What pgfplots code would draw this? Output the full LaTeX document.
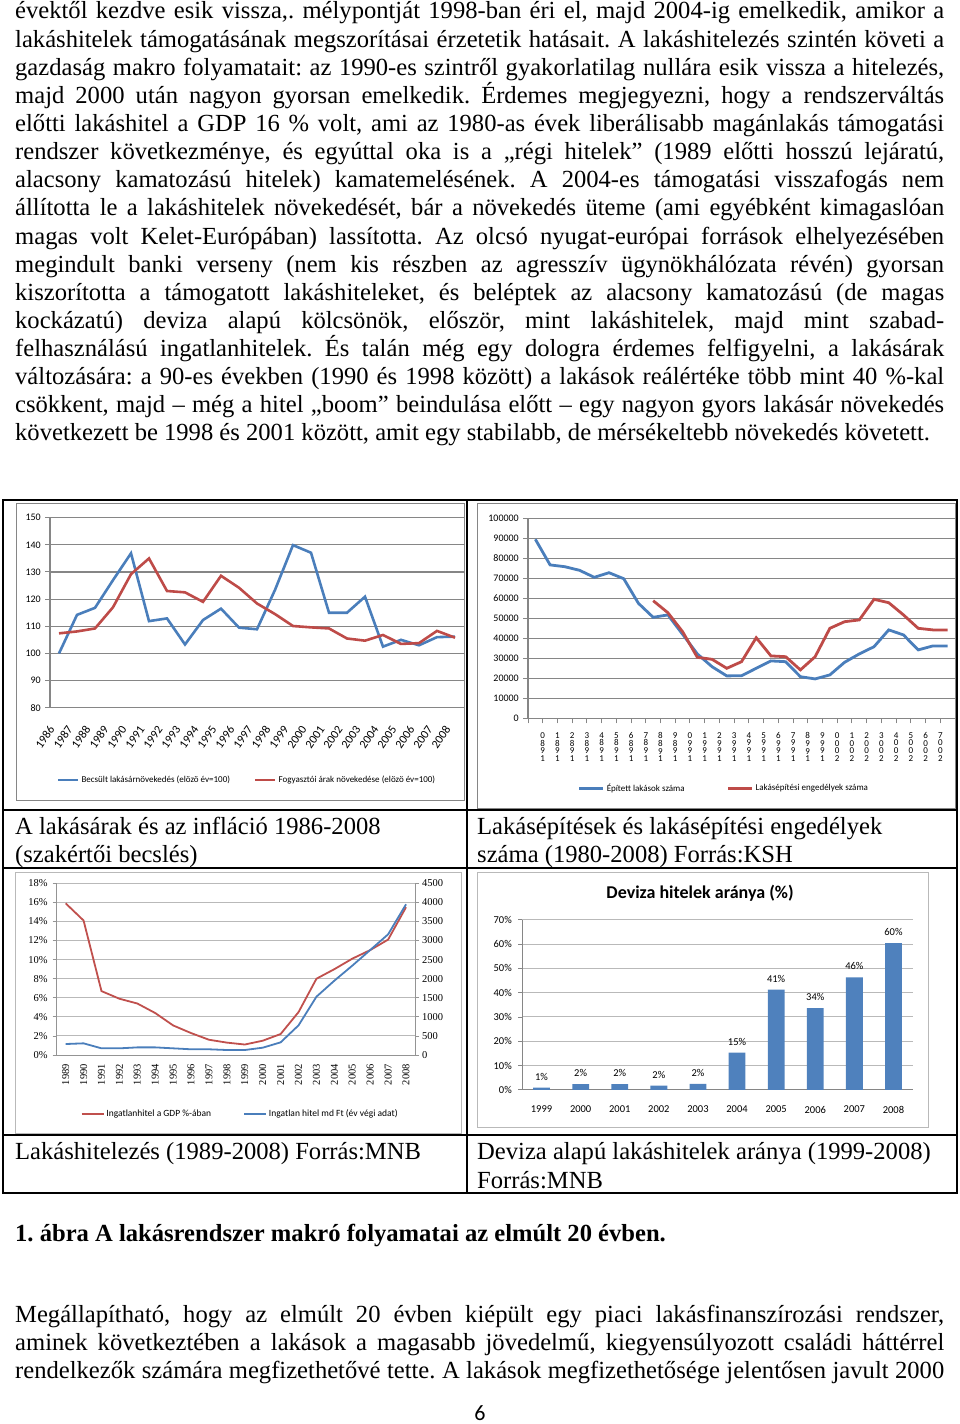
\documentclass[border=0pt]{standalone}
\usepackage{fontspec}
\setmainfont{Liberation Serif}
\newfontfamily\calfont{Carlito}
\usepackage{pgfplots}
\pgfplotsset{compat=1.18}
\definecolor{bl}{RGB}{74,126,187}
\definecolor{rd}{RGB}{190,75,72}
\definecolor{rd3}{RGB}{192,80,77}
\definecolor{barc}{RGB}{79,129,189}
\definecolor{gr}{RGB}{134,134,134}
\definecolor{lg}{RGB}{185,185,185}
\newcommand\bodyfont{\fontsize{24.6}{28.13}\selectfont}
\newcommand\JL[1]{\hbox to 929pt{#1}}
\newcommand\yr[4]{#4\\#3\\#2\\#1}
\frenchspacing
\begin{document}
\begin{tikzpicture}
\path[use as bounding box] (0,0) rectangle (960pt,-1424pt);
% ---------- body text ----------
\node[anchor=base west,inner sep=0pt] at (15pt,-19pt) {\bodyfont\vtop{\baselineskip=28.13pt\lineskiplimit=-20pt
\JL{évektől kezdve esik vissza,. mélypontját 1998-ban éri el, majd 2004-ig emelkedik, amikor a}
\JL{lakáshitelek támogatásának megszorításai érzetetik hatásait. A lakáshitelezés szintén követi a}
\JL{gazdaság makro folyamatait: az 1990-es szintről gyakorlatilag nullára esik vissza a hitelezés,}
\JL{majd 2000 után nagyon gyorsan emelkedik. Érdemes megjegyezni, hogy a rendszerváltás}
\JL{előtti lakáshitel a GDP 16 \% volt, ami az 1980-as évek liberálisabb magánlakás támogatási}
\JL{rendszer következménye, és egyúttal oka is a „régi hitelek” (1989 előtti hosszú lejáratú,}
\JL{alacsony kamatozású hitelek) kamatemelésének. A 2004-es támogatási visszafogás nem}
\JL{állította le a lakáshitelek növekedését, bár a növekedés üteme (ami egyébként kimagaslóan}
\JL{magas volt Kelet-Európában) lassította. Az olcsó nyugat-európai források elhelyezésében}
\JL{megindult banki verseny (nem kis részben az agresszív ügynökhálózata révén) gyorsan}
\JL{kiszorította a támogatott lakáshiteleket, és beléptek az alacsony kamatozású (de magas}
\JL{kockázatú) deviza alapú kölcsönök, először, mint lakáshitelek, majd mint szabad-}
\JL{felhasználású ingatlanhitelek. És talán még egy dologra érdemes felfigyelni, a lakásárak}
\JL{változására: a 90-es években (1990 és 1998 között) a lakások reálértéke több mint 40 \%-kal}
\JL{csökkent, majd – még a hitel „boom” beindulása előtt – egy nagyon gyors lakásár növekedés}
\hbox{következett be 1998 és 2001 között, amit egy stabilabb, de mérsékeltebb növekedés követett.}
}};
% ---------- table ----------
\draw[line width=1.3pt] (3pt,-500pt) rectangle (957pt,-1193pt);
\draw[line width=1.3pt] (467pt,-500pt) -- (467pt,-1193pt);
\draw[line width=1.3pt] (3pt,-810pt) -- (957pt,-810pt);
\draw[line width=1.3pt] (3pt,-868pt) -- (957pt,-868pt);
\draw[line width=1.3pt] (3pt,-1135pt) -- (957pt,-1135pt);
% chart frames
\draw[gr,line width=1pt] (16pt,-503pt) rectangle (464pt,-800pt);
\draw[gr,line width=1pt] (477pt,-503pt) rectangle (955pt,-808pt);
\draw[lg,line width=1pt] (15pt,-872pt) rectangle (461pt,-1133pt);
\draw[lg,line width=1pt] (477pt,-872pt) rectangle (928pt,-1127pt);
% captions
\node[anchor=base west,inner sep=0pt] at (15pt,-834pt) {\bodyfont A lakásárak és az infláció 1986-2008};
\node[anchor=base west,inner sep=0pt] at (15pt,-862pt) {\bodyfont (szakértői becslés)};
\node[anchor=base west,inner sep=0pt] at (477pt,-834pt) {\bodyfont Lakásépítések és lakásépítési engedélyek};
\node[anchor=base west,inner sep=0pt] at (477pt,-862pt) {\bodyfont száma (1980-2008) Forrás:KSH};
\node[anchor=base west,inner sep=0pt] at (15pt,-1159pt) {\bodyfont Lakáshitelezés (1989-2008) Forrás:MNB};
\node[anchor=base west,inner sep=0pt] at (477pt,-1159pt) {\bodyfont Deviza alapú lakáshitelek aránya (1999-2008)};
\node[anchor=base west,inner sep=0pt] at (477pt,-1188pt) {\bodyfont Forrás:MNB};
% ---------- below table ----------
\node[anchor=base west,inner sep=0pt] at (15pt,-1241pt) {\bodyfont\bfseries 1. ábra A lakásrendszer makró folyamatai az elmúlt 20 évben.};
\node[anchor=base west,inner sep=0pt] at (15pt,-1322pt) {\bodyfont\vtop{\baselineskip=28.13pt\lineskiplimit=-20pt
\JL{Megállapítható, hogy az elmúlt 20 évben kiépült egy piaci lakásfinanszírozási rendszer,}
\JL{aminek következtében a lakások a magasabb jövedelmű, kiegyensúlyozott családi háttérrel}
\JL{rendelkezők számára megfizethetővé tette. A lakások megfizethetősége jelentősen javult 2000}
}};
\node[anchor=base,inner sep=0pt] at (480pt,-1420pt) {\calfont\fontsize{22}{24}\selectfont 6};
% ---------- chart 1 ----------
\begin{axis}[
  at={(50pt,-707.7pt)}, anchor=south west, scale only axis, width=414pt, height=190pt,
  xmin=-0.5, xmax=22.5, ymin=80, ymax=150,
  axis x line*=bottom, axis y line*=left, axis line style={gr,line width=1.2pt},
  tick align=outside, major tick length=5pt, minor tick length=5pt,
  xtick={0,...,22},
  xticklabels={1986,1987,1988,1989,1990,1991,1992,1993,1994,1995,1996,1997,1998,1999,2000,2001,2002,2003,2004,2005,2006,2007,2008},
  xtick style={draw=none}, minor xtick={-0.5,0.5,...,22.5}, minor x tick style={gr,line width=1pt},
  ytick={80,90,...,150}, yticklabels={80,90,100,110,120,130,140,150},
  ytick style={gr,line width=1pt},
  ymajorgrids, grid style={gr,line width=1.2pt},
  tick label style={font=\calfont\fontsize{10}{12}\selectfont},
  xticklabel style={font=\calfont\fontsize{12}{12}\selectfont,xshift=-7pt,rotate=55,anchor=east,inner sep=0pt}, xticklabel shift=14pt,
  yticklabel style={inner sep=0pt}, yticklabel shift=4pt,
  legend style={at={(0.476,-0.38)},anchor=center,draw=none,fill=none,
    font=\calfont\fontsize{9}{10}\selectfont,legend columns=2,
    /tikz/every even column/.append style={column sep=22pt}},
  legend image code/.code={\draw[#1,line width=2.6pt] (0pt,0pt) -- (20pt,0pt);},
]
\addplot[bl,line width=2.6pt] coordinates {(0,100)(1,114.2)(2,116.8)(3,127)(4,136.9)(5,111.9)(6,112.9)(7,103.3)(8,112.3)(9,116.5)(10,109.5)(11,108.9)(12,123.4)(13,139.9)(14,137.1)(15,115)(16,115)(17,120.9)(18,102.5)(19,105)(20,103)(21,106)(22,106.2)};
\addlegendentry{Becsült lakásárnövekedés (elözö év=100)}
\addplot[rd,line width=2.6pt] coordinates {(0,107.4)(1,108.1)(2,109.2)(3,117)(4,129.2)(5,135)(6,123)(7,122.5)(8,119)(9,128.6)(10,124.2)(11,118.4)(12,114.5)(13,110.1)(14,109.6)(15,109.2)(16,105.5)(17,104.7)(18,106.8)(19,103.5)(20,103.8)(21,108.3)(22,105.8)};
\addlegendentry{Fogyasztói árak növekedése (elözö év=100)}
\end{axis}
% ---------- chart 2 ----------
\begin{axis}[
  at={(528pt,-718.3pt)}, anchor=south west, scale only axis, width=427pt, height=200pt,
  xmin=-0.5, xmax=28.5, ymin=0, ymax=100000,
  axis x line*=bottom, axis y line*=left, axis line style={gr,line width=1.2pt},
  tick align=outside, major tick length=5pt,
  xtick={-0.5,0.5,...,28.5},
  xticklabels={{},\yr1980,\yr1981,\yr1982,\yr1983,\yr1984,\yr1985,\yr1986,\yr1987,\yr1988,\yr1989,\yr1990,\yr1991,\yr1992,\yr1993,\yr1994,\yr1995,\yr1996,\yr1997,\yr1998,\yr1999,\yr2000,\yr2001,\yr2002,\yr2003,\yr2004,\yr2005,\yr2006,\yr2007,{}},
  xtick style={gr,line width=1pt}, ytick style={gr,line width=1pt},
  ytick={0,10000,...,100000}, yticklabels={0,10000,20000,30000,40000,50000,60000,70000,80000,90000,100000},
  scaled y ticks=false,
  ymajorgrids, grid style={gr,line width=1.5pt},
  tick label style={font=\calfont\fontsize{10}{12}\selectfont},
  xticklabel style={font=\calfont\fontsize{9}{7.7}\selectfont,align=center,anchor=north,inner sep=0pt}, xticklabel shift=9pt,
  yticklabel style={inner sep=0pt}, yticklabel shift=4pt,
  legend style={at={(0.459,-0.35)},anchor=center,draw=none,fill=none,
    font=\calfont\fontsize{9}{10}\selectfont,legend columns=2,
    /tikz/every even column/.append style={column sep=40pt}},
  legend image code/.code={\draw[#1,line width=2.8pt] (0pt,0pt) -- (24pt,0pt);},
]
\addplot[bl,line width=2.8pt] coordinates {(0,89500)(1,76700)(2,75800)(3,74000)(4,70500)(5,72800)(6,69800)(7,57500)(8,50500)(9,51700)(10,42000)(11,32200)(12,25800)(13,21200)(14,21300)(15,25000)(16,28700)(17,28300)(18,20800)(19,19700)(20,21700)(21,28000)(22,32200)(23,35800)(24,44200)(25,41700)(26,34200)(27,36200)(28,36200)};
\addlegendentry{Épített lakások száma}
\addplot[rd,line width=2.8pt] coordinates {(8,58800)(9,52800)(10,43300)(11,30500)(12,29500)(13,25000)(14,28300)(15,40300)(16,31200)(17,30800)(18,24200)(19,30800)(20,45000)(21,48300)(22,49200)(23,59500)(24,57800)(25,51700)(26,45000)(27,44200)(28,44200)};
\addlegendentry{Lakásépítési engedélyek száma}
\end{axis}
% ---------- chart 3 ----------
\begin{axis}[
  at={(56.7pt,-1055pt)}, anchor=south west, scale only axis, width=358.3pt, height=171.7pt,
  xmin=-0.5, xmax=19.5, ymin=0, ymax=18,
  axis x line*=bottom, axis y line*=left, axis line style={lg!80!black,line width=1pt},
  tick align=outside, major tick length=4pt, minor tick length=4pt,
  xtick={0,...,19},
  xticklabels={1989,1990,1991,1992,1993,1994,1995,1996,1997,1998,1999,2000,2001,2002,2003,2004,2005,2006,2007,2008},
  xtick style={draw=none}, minor xtick={-0.5,0.5,...,19.5}, minor x tick style={lg!80!black,line width=0.8pt},
  ytick={0,2,...,18}, yticklabels={0\%,2\%,4\%,6\%,8\%,10\%,12\%,14\%,16\%,18\%},
  ytick style={lg!80!black,line width=0.8pt},
  ymajorgrids, grid style={lg,line width=0.9pt},
  tick label style={font=\fontsize{10.5}{12}\selectfont},
  xticklabel style={rotate=90,anchor=east,inner sep=0pt}, xticklabel shift=5pt,
  yticklabel style={inner sep=0pt}, yticklabel shift=5pt,
]
\addplot[rd3,line width=1.8pt] coordinates {(0,15.9)(1,14.1)(2,6.7)(3,5.9)(4,5.4)(5,4.4)(6,3.1)(7,2.3)(8,1.6)(9,1.3)(10,1.1)(11,1.5)(12,2.2)(13,4.5)(14,8.0)(15,9.0)(16,10.1)(17,11.0)(18,12.1)(19,15.5)};
\end{axis}
\begin{axis}[
  at={(56.7pt,-1055pt)}, anchor=south west, scale only axis, width=358.3pt, height=171.7pt,
  xmin=-0.5, xmax=19.5, ymin=0, ymax=4500,
  axis x line=none, axis y line*=right, axis line style={lg!80!black,line width=1pt},
  tick align=outside, major tick length=4pt,
  ytick={0,500,...,4500}, yticklabels={0,500,1000,1500,2000,2500,3000,3500,4000,4500},
  scaled y ticks=false,
  ytick style={lg!80!black,line width=0.8pt},
  tick label style={font=\fontsize{10.5}{12}\selectfont},
  yticklabel style={inner sep=0pt}, yticklabel shift=3pt,
  legend style={at={(0.512,-0.344)},anchor=center,draw=none,fill=none,
    font=\calfont\fontsize{9.5}{10}\selectfont,legend columns=2,
    /tikz/every even column/.append style={column sep=30pt}},
  legend image code/.code={\draw[#1,line width=1.8pt] (0pt,0pt) -- (22pt,0pt);},
]
\addlegendimage{rd3,line width=1.8pt}
\addlegendentry{Ingatlanhitel a GDP \%-ában}
\addplot[bl,line width=1.8pt] coordinates {(0,288)(1,306)(2,175)(3,175)(4,200)(5,200)(6,175)(7,150)(8,150)(9,131)(10,131)(11,192)(12,332)(13,778)(14,1529)(15,1949)(16,2342)(17,2752)(18,3163)(19,3950)};
\addlegendentry{Ingatlan hitel md Ft (év végi adat)}
\end{axis}
% ---------- chart 4 ----------
\node[anchor=center,inner sep=0pt] at (700pt,-893pt) {\calfont\bfseries\fontsize{18}{20}\selectfont Deviza hitelek aránya (\%)};
\begin{axis}[
  at={(522pt,-1089.8pt)}, anchor=south west, scale only axis, width=391pt, height=170.1pt,
  xmin=-0.5, xmax=9.5, ymin=0, ymax=70,
  axis x line*=bottom, axis y line*=left, axis line style={gr,line width=1pt},
  tick align=outside, major tick length=4pt, minor tick length=4pt,
  xtick={0,...,9},
  xticklabels={1999,2000,2001,2002,2003,2004,2005,2006,2007,2008},
  xtick style={draw=none}, minor xtick={-0.5,0.5,...,9.5}, minor x tick style={gr,line width=0.8pt},
  ytick={0,10,...,70}, yticklabels={0\%,10\%,20\%,30\%,40\%,50\%,60\%,70\%},
  ytick style={gr,line width=0.8pt},
  ymajorgrids, grid style={lg,line width=0.9pt},
  tick label style={font=\calfont\fontsize{10.5}{12}\selectfont},
  xticklabel style={inner sep=0pt,anchor=north}, xticklabel shift=12pt,
  yticklabel style={inner sep=0pt}, yticklabel shift=6pt,
  point meta=explicit symbolic,
  nodes near coords,
  every node near coord/.append style={font=\calfont\fontsize{10.5}{12}\selectfont, yshift=4pt},
]
\addplot[ybar,bar width=16.8pt,fill=barc,draw=none] coordinates {(0,0.9)[1\%] (1,2.3)[2\%] (2,2.3)[2\%] (3,1.7)[2\%] (4,2.4)[2\%] (5,15.3)[15\%] (6,41.2)[41\%] (7,33.6)[34\%] (8,46.3)[46\%] (9,60.4)[60\%]};
\end{axis}
\end{tikzpicture}
\end{document}
